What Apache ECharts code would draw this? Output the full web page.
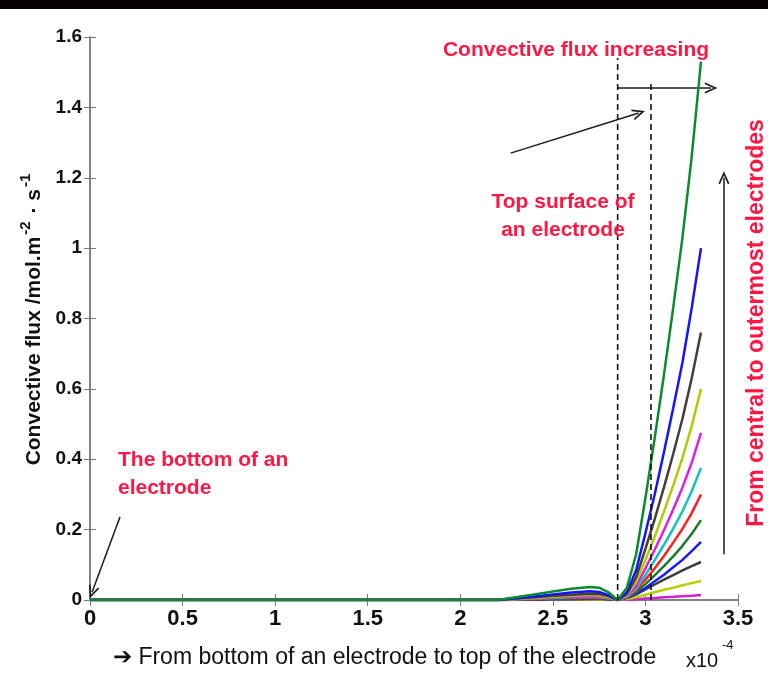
<!DOCTYPE html>
<html>
<head>
<meta charset="utf-8">
<script src="https://cdn.jsdelivr.net/npm/echarts@6/dist/echarts.min.js"></script>
<style>
html,body{margin:0;padding:0;background:#fff;}
#c{width:768px;height:682px;}
</style>
</head>
<body>
<div id="c"></div>
<script>
// x positions (units of 1e-4)
const xs = [0, 2.2, 2.3, 2.4, 2.5, 2.6, 2.7, 2.75, 2.8, 2.85, 2.9, 2.95, 3.0, 3.05, 3.1, 3.15, 3.2, 3.25, 3.3];
const xTicks = ['0','0.5','1','1.5','2','2.5','3','3.5'];
// series values (from outermost to central, top to bottom at x = 3.3e-4)
const s01 = [0, 0, 0.008, 0.016, 0.024, 0.032, 0.037, 0.035, 0.022, 0, 0.035, 0.13, 0.29, 0.46, 0.64, 0.83, 1.03, 1.26, 1.53];
const s02 = [0, 0, 0.005, 0.010, 0.016, 0.021, 0.025, 0.023, 0.014, 0, 0.022, 0.085, 0.19, 0.30, 0.42, 0.545, 0.675, 0.83, 1.0];
const s03 = [0, 0, 0.004, 0.008, 0.012, 0.015, 0.018, 0.017, 0.011, 0, 0.017, 0.065, 0.145, 0.23, 0.32, 0.415, 0.515, 0.63, 0.76];
const s04 = [0, 0, 0.003, 0.006, 0.009, 0.012, 0.014, 0.013, 0.008, 0, 0.014, 0.051, 0.114, 0.18, 0.251, 0.325, 0.404, 0.494, 0.60];
const s05 = [0, 0, 0.003, 0.005, 0.008, 0.010, 0.011, 0.010, 0.006, 0, 0.011, 0.040, 0.090, 0.143, 0.198, 0.257, 0.32, 0.39, 0.475];
const s06 = [0, 0, 0.002, 0.004, 0.006, 0.008, 0.009, 0.008, 0.005, 0, 0.009, 0.032, 0.071, 0.113, 0.157, 0.203, 0.252, 0.309, 0.375];
const s07 = [0, 0, 0.002, 0.003, 0.005, 0.006, 0.007, 0.006, 0.004, 0, 0.008, 0.027, 0.058, 0.09, 0.125, 0.163, 0.202, 0.247, 0.30];
const s08 = [0, 0, 0.001, 0.002, 0.004, 0.005, 0.005, 0.005, 0.003, 0, 0.007, 0.022, 0.045, 0.07, 0.096, 0.124, 0.154, 0.188, 0.227];
const s09 = [0, 0, 0.001, 0.002, 0.003, 0.003, 0.004, 0.004, 0.002, 0, 0.006, 0.018, 0.034, 0.053, 0.072, 0.093, 0.114, 0.139, 0.165];
const s10 = [0, 0, 0.001, 0.001, 0.002, 0.002, 0.003, 0.003, 0.002, 0, 0.006, 0.016, 0.030, 0.044, 0.058, 0.071, 0.084, 0.096, 0.108];
const s11 = [0, 0, 0, 0.001, 0.001, 0.001, 0.002, 0.001, 0.001, 0, 0.003, 0.008, 0.015, 0.022, 0.029, 0.035, 0.042, 0.048, 0.054];
const s12 = [0, 0, 0, 0, 0, 0.001, 0.001, 0.001, 0, 0, 0.001, 0.002, 0.004, 0.006, 0.008, 0.009, 0.011, 0.012, 0.014];
const seriesValues = [s01, s02, s03, s04, s05, s06, s07, s08, s09, s10, s11, s12];
const colors = ['#0b8a2e', '#1414ff', '#463c3c', '#b2ca00', '#e020e0', '#12c2c2', '#ff1e1e', '#1b7a2c', '#1a1aff', '#3f3a3a', '#b4d000', '#d020d0'];
// dashed reference lines: [x, top y]
const dashed = [[2.85, 1.54], [3.03, 1.47]];
// annotation arrows: [x1, y1, x2, y2]
const arrows = [
  [2.85, 1.455, 3.354, 1.455],
  [2.272, 1.27, 2.964, 1.384],
  [3.424, 0.13, 3.424, 1.20],
  [0.162, 0.236, 0.011, 0.022]
];

const chart = echarts.init(document.getElementById('c'));
const axisGray = '#7a7a7a';
const chevron = 'path://M5,0 L10,13 L8.6,13.7 L5,4.2 L1.4,13.7 L0,13 Z';

const series = [];
for (let i = seriesValues.length - 1; i >= 0; i--) {
  series.push({
    type: 'line', xAxisIndex: 0, yAxisIndex: 0,
    data: xs.map((x, j) => [x, seriesValues[i][j]]),
    showSymbol: false, symbol: 'none',
    lineStyle: {color: colors[i], width: 2.5},
    z: 3 + (seriesValues.length - i), silent: true, animation: false
  });
}
dashed.forEach(d => {
  series.push({
    type: 'line', data: [[d[0], 0], [d[0], d[1]]], symbol: 'none',
    lineStyle: {color: '#111', width: 1.6, type: [6, 4]}, z: 20, silent: true, animation: false
  });
});
series.push({
  type: 'line', data: [], animation: false,
  markLine: {
    silent: true, animation: false,
    symbol: ['none', chevron], symbolSize: [11, 13],
    label: {show: false},
    lineStyle: {color: '#1a1a1a', width: 1.5, type: 'solid'},
    data: arrows.map(a => [{coord: [a[0], a[1]]}, {coord: [a[2], a[3]]}])
  }
});

const red = '#ff1744';
const ff = '"Liberation Sans", Arial, sans-serif';
const narrow = '"Liberation Sans Narrow", "Arial Narrow", "Liberation Sans", Arial, sans-serif';

chart.setOption({
  backgroundColor: '#ffffff',
  animation: false,
  grid: {left: 90, right: 30, top: 37, bottom: 82},
  xAxis: [{
    type: 'value', min: 0, max: 3.5, interval: 0.5, position: 'bottom',
    axisLine: {show: true, lineStyle: {color: axisGray, width: 1.5}},
    axisTick: {show: true, inside: true, length: 6, lineStyle: {color: axisGray}},
    axisLabel: {color: '#111', fontFamily: narrow, fontWeight: 'bold', fontSize: 22, margin: 8, formatter: (v) => xTicks[Math.round(v / 0.5)]},
    splitLine: {show: false}
  }, {
    type: 'value', min: 0, max: 3.5, interval: 0.5, position: 'top',
    axisLine: {show: true, lineStyle: {color: axisGray, width: 1.5}},
    axisTick: {show: true, inside: true, length: 6, lineStyle: {color: axisGray}},
    axisLabel: {show: false}, splitLine: {show: false}
  }],
  yAxis: [{
    type: 'value', min: 0, max: 1.6, interval: 0.2, position: 'left',
    axisLine: {show: true, lineStyle: {color: axisGray, width: 1.5}},
    axisTick: {show: true, inside: true, length: 6, lineStyle: {color: axisGray}},
    axisLabel: {color: '#111', fontFamily: ff, fontWeight: 'bold', fontSize: 19, margin: 8},
    splitLine: {show: false},
    name: '{a|Convective flux /mol.m}{s|-2}{a| · s}{s|-1}',
    nameLocation: 'middle', nameRotate: 90, nameGap: 44,
    nameTextStyle: {
      rich: {
        a: {fontFamily: ff, fontWeight: 'bold', fontSize: 21, color: '#111', lineHeight: 26, verticalAlign: 'bottom'},
        s: {fontFamily: ff, fontWeight: 'bold', fontSize: 15, color: '#111', lineHeight: 26, verticalAlign: 'top', padding: [0, 2, 0, 2]}
      }
    }
  }, {
    type: 'value', min: 0, max: 1.6, interval: 0.2, position: 'right',
    axisLine: {show: true, lineStyle: {color: axisGray, width: 1.5}},
    axisTick: {show: true, inside: true, length: 6, lineStyle: {color: axisGray}},
    axisLabel: {show: false}, splitLine: {show: false}
  }],
  graphic: [
    {type: 'rect', left: 0, top: 0, shape: {width: 768, height: 9}, style: {fill: '#080000'}, z: 100},
    {type: 'text', x: 576, y: 50, style: {text: 'Convective flux increasing', fill: red, font: 'bold 21px ' + ff, textAlign: 'center', textVerticalAlign: 'middle'}, z: 100},
    {type: 'text', x: 563, y: 202, style: {text: 'Top surface of', fill: red, font: 'bold 21px ' + ff, textAlign: 'center', textVerticalAlign: 'middle'}, z: 100},
    {type: 'text', x: 563, y: 230, style: {text: 'an electrode', fill: red, font: 'bold 21px ' + ff, textAlign: 'center', textVerticalAlign: 'middle'}, z: 100},
    {type: 'text', x: 118, y: 460, style: {text: 'The bottom of an', fill: red, font: 'bold 21px ' + ff, textAlign: 'left', textVerticalAlign: 'middle'}, z: 100},
    {type: 'text', x: 118, y: 488, style: {text: 'electrode', fill: red, font: 'bold 21px ' + ff, textAlign: 'left', textVerticalAlign: 'middle'}, z: 100},
    {type: 'text', x: 757, y: 323, rotation: Math.PI / 2, style: {text: 'From central to outermost electrodes', fill: red, font: 'bold 23px ' + ff, textAlign: 'center', textVerticalAlign: 'middle'}, z: 100},
    {type: 'text', x: 113, y: 658, style: {text: '➔ From bottom of an electrode to top of the electrode', fill: '#111', font: '23px ' + ff, textAlign: 'left', textVerticalAlign: 'middle'}, z: 100},
    {type: 'text', x: 686, y: 661, style: {text: 'x10', fill: '#111', font: '20px ' + ff, textAlign: 'left', textVerticalAlign: 'middle'}, z: 100},
    {type: 'text', x: 722, y: 645, style: {text: '-4', fill: '#111', font: '13px ' + ff, textAlign: 'left', textVerticalAlign: 'middle'}, z: 100}
  ],
  series: series
});
</script>
</body>
</html>
